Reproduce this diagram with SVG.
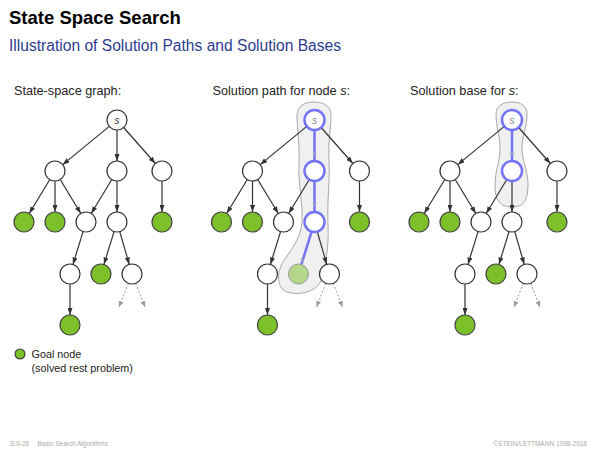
<svg xmlns="http://www.w3.org/2000/svg" width="600" height="450" viewBox="0 0 600 450">
<style>
text{font-family:"Liberation Sans",Arial,sans-serif}
.title{font-size:18.5px;font-weight:bold;fill:#000}
.sub{font-size:15.6px;fill:#2e3d8f}
.lab{font-size:12.7px;fill:#222}
.leg{font-size:10.8px;fill:#222}
.foot{font-size:6.5px;fill:#aaa}
.n{fill:#fff;stroke:#333;stroke-width:1.2}
.goal{fill:#7cc02a;stroke:#444;stroke-width:1.2}
.sol{fill:#fff;stroke:#7474f5;stroke-width:2.5}
.goalsol{fill:#b5d78c;stroke:#999;stroke-width:1}
.e{stroke:#333;stroke-width:1.2;fill:none;marker-end:url(#ah)}
.d{stroke:#999;stroke-width:1;fill:none;stroke-dasharray:2,2;marker-end:url(#ahg)}
.b{stroke:#7474f5;stroke-width:2.5;fill:none}
.bh{fill:#9a9ac8}
.blob{fill:#f0f0f0;stroke:#a8a8a8;stroke-width:1}
.sl{font-size:10px;font-style:italic;fill:#333;text-anchor:middle}
.slg{font-size:10px;font-style:italic;fill:#888;text-anchor:middle}
</style>
<defs>
<marker id="ah" viewBox="0 0 7 5" refX="7" refY="2.5" markerWidth="7" markerHeight="5" markerUnits="userSpaceOnUse" orient="auto"><path d="M0,0 L7,2.5 L0,5 z" fill="#333"/></marker>
<marker id="ahg" viewBox="0 0 6 5" refX="6" refY="2.5" markerWidth="6" markerHeight="5" markerUnits="userSpaceOnUse" orient="auto"><path d="M0,0 L6,2.5 L0,5 z" fill="#999"/></marker>
</defs>

<text class="title" x="9" y="24">State Space Search</text>
<text class="sub" x="9" y="51">Illustration of Solution Paths and Solution Bases</text>

<text class="lab" x="14" y="95">State-space graph:</text>
<text class="lab" x="212.5" y="95">Solution path for node <tspan font-style="italic">s</tspan>:</text>
<text class="lab" x="410" y="95">Solution base for <tspan font-style="italic">s</tspan>:</text>

<!-- highlight regions -->
<path id="blob-path" class="blob" d="M314,102 C324,102 331,106 331,116 C331,130 328,140 329,160 C330,180 327,200 328,225 C329,245 326,262 322,278 C318,292 300,296 287,292 C276,288 277,272 283,262 C292,248 301,238 302,222 C303,200 298,185 299,165 C300,145 297,130 297,116 C297,106 304,102 314,102 Z"/>
<path id="blob-base" class="blob" d="M512,102 C521,102 527,106 527,114 C527,128 522,135 522,148 C522,162 528,170 528,184 C528,200 524,207 512,207 C500,207 495,200 495,186 C495,170 500,162 500,148 C500,135 496,128 496,114 C496,106 503,102 512,102 Z"/>

<!-- Graph 1 -->
<g id="graph1">
<g id="g1-connectors">
<line class="e" x1="109.28" y1="126.35" x2="62.72" y2="164.65"/>
<line class="e" x1="117" y1="130" x2="117" y2="161"/>
<line class="e" x1="123.62" y1="127.5" x2="155.38" y2="163.5"/>
<line class="e" x1="49.81" y1="179.55" x2="29.19" y2="213.45"/>
<line class="e" x1="55" y1="181" x2="55" y2="212"/>
<line class="e" x1="60.19" y1="179.55" x2="80.81" y2="213.45"/>
<line class="e" x1="111.81" y1="179.55" x2="91.19" y2="213.45"/>
<line class="e" x1="117" y1="181" x2="117" y2="212"/>
<line class="e" x1="162" y1="181" x2="162" y2="212"/>
<line class="e" x1="83.06" y1="231.56" x2="72.94" y2="264.44"/>
<line class="e" x1="114.06" y1="231.56" x2="103.94" y2="264.44"/>
<line class="e" x1="119.77" y1="231.61" x2="129.23" y2="264.39"/>
<line class="e" x1="70" y1="284" x2="70" y2="315"/>
<line class="d" x1="128.34" y1="283.3" x2="119" y2="307"/>
<line class="d" x1="135.66" y1="283.3" x2="145" y2="307"/>
</g>
<g id="g1-s"><circle class="n" cx="117" cy="120" r="10"/><text class="sl" x="117" y="123.5">s</text></g>
<g id="g1-a"><circle class="n" cx="55" cy="171" r="10"/></g>
<g id="g1-b"><circle class="n" cx="117" cy="171" r="10"/></g>
<g id="g1-c"><circle class="n" cx="162" cy="171" r="10"/></g>
<g id="g1-d"><circle class="goal" cx="24" cy="222" r="10"/></g>
<g id="g1-e"><circle class="goal" cx="55" cy="222" r="10"/></g>
<g id="g1-f"><circle class="n" cx="86" cy="222" r="10"/></g>
<g id="g1-g"><circle class="n" cx="117" cy="222" r="10"/></g>
<g id="g1-h"><circle class="goal" cx="162" cy="222" r="10"/></g>
<g id="g1-i"><circle class="n" cx="70" cy="274" r="10"/></g>
<g id="g1-j"><circle class="goal" cx="101" cy="274" r="10"/></g>
<g id="g1-k"><circle class="n" cx="132" cy="274" r="10"/></g>
<g id="g1-l"><circle class="goal" cx="70" cy="325" r="10"/></g>
</g>

<!-- Graph 2 -->
<g id="graph2" transform="translate(197.5,0)">
<g id="g2-connectors">
<line class="e" x1="109.28" y1="126.35" x2="62.72" y2="164.65"/>
<line class="e" x1="123.62" y1="127.5" x2="155.38" y2="163.5"/>
<line class="e" x1="49.81" y1="179.55" x2="29.19" y2="213.45"/>
<line class="e" x1="55" y1="181" x2="55" y2="212"/>
<line class="e" x1="60.19" y1="179.55" x2="80.81" y2="213.45"/>
<line class="e" x1="111.81" y1="179.55" x2="91.19" y2="213.45"/>
<line class="e" x1="162" y1="181" x2="162" y2="212"/>
<line class="e" x1="83.06" y1="231.56" x2="72.94" y2="264.44"/>
<line class="e" x1="119.77" y1="231.61" x2="129.23" y2="264.39"/>
<line class="e" x1="70" y1="284" x2="70" y2="315"/>
<line class="d" x1="128.34" y1="283.3" x2="119" y2="307"/>
<line class="d" x1="135.66" y1="283.3" x2="145" y2="307"/>
<line class="b" x1="117" y1="130" x2="117" y2="161"/>
<line class="b" x1="117" y1="181" x2="117" y2="212"/>
<line class="b" x1="114.06" y1="231.56" x2="103.94" y2="264.44"/>
<path class="bh" d="M115,152 L117,156 L119,152 z"/>
<path class="bh" d="M115,203 L117,207 L119,203 z"/>
<path class="bh" d="M103.2,258.5 L104.5,262.9 L107,259.3 z"/>
</g>
<g id="g2-s"><circle class="sol" cx="117" cy="120" r="10"/><text class="slg" x="117" y="123.5">s</text></g>
<g id="g2-a"><circle class="n" cx="55" cy="171" r="10"/></g>
<g id="g2-b"><circle class="sol" cx="117" cy="171" r="10"/></g>
<g id="g2-c"><circle class="n" cx="162" cy="171" r="10"/></g>
<g id="g2-d"><circle class="goal" cx="24" cy="222" r="10"/></g>
<g id="g2-e"><circle class="goal" cx="55" cy="222" r="10"/></g>
<g id="g2-f"><circle class="n" cx="86" cy="222" r="10"/></g>
<g id="g2-g"><circle class="sol" cx="117" cy="222" r="10"/></g>
<g id="g2-h"><circle class="goal" cx="162" cy="222" r="10"/></g>
<g id="g2-i"><circle class="n" cx="70" cy="274" r="10"/></g>
<g id="g2-j"><circle class="goalsol" cx="101" cy="274" r="10"/></g>
<g id="g2-k"><circle class="n" cx="132" cy="274" r="10"/></g>
<g id="g2-l"><circle class="goal" cx="70" cy="325" r="10"/></g>
</g>

<!-- Graph 3 -->
<g id="graph3" transform="translate(395,0)">
<g id="g3-connectors">
<line class="e" x1="109.28" y1="126.35" x2="62.72" y2="164.65"/>
<line class="e" x1="123.62" y1="127.5" x2="155.38" y2="163.5"/>
<line class="e" x1="49.81" y1="179.55" x2="29.19" y2="213.45"/>
<line class="e" x1="55" y1="181" x2="55" y2="212"/>
<line class="e" x1="60.19" y1="179.55" x2="80.81" y2="213.45"/>
<line class="e" x1="111.81" y1="179.55" x2="91.19" y2="213.45"/>
<line class="e" x1="117" y1="181" x2="117" y2="212"/>
<line class="e" x1="162" y1="181" x2="162" y2="212"/>
<line class="e" x1="83.06" y1="231.56" x2="72.94" y2="264.44"/>
<line class="e" x1="114.06" y1="231.56" x2="103.94" y2="264.44"/>
<line class="e" x1="119.77" y1="231.61" x2="129.23" y2="264.39"/>
<line class="e" x1="70" y1="284" x2="70" y2="315"/>
<line class="d" x1="128.34" y1="283.3" x2="119" y2="307"/>
<line class="d" x1="135.66" y1="283.3" x2="145" y2="307"/>
<line class="b" x1="117" y1="130" x2="117" y2="161"/>
<path class="bh" d="M115,152 L117,156 L119,152 z"/>
</g>
<g id="g3-s"><circle class="sol" cx="117" cy="120" r="10"/><text class="slg" x="117" y="123.5">s</text></g>
<g id="g3-a"><circle class="n" cx="55" cy="171" r="10"/></g>
<g id="g3-b"><circle class="sol" cx="117" cy="171" r="10"/></g>
<g id="g3-c"><circle class="n" cx="162" cy="171" r="10"/></g>
<g id="g3-d"><circle class="goal" cx="24" cy="222" r="10"/></g>
<g id="g3-e"><circle class="goal" cx="55" cy="222" r="10"/></g>
<g id="g3-f"><circle class="n" cx="86" cy="222" r="10"/></g>
<g id="g3-g"><circle class="n" cx="117" cy="222" r="10"/></g>
<g id="g3-h"><circle class="goal" cx="162" cy="222" r="10"/></g>
<g id="g3-i"><circle class="n" cx="70" cy="274" r="10"/></g>
<g id="g3-j"><circle class="goal" cx="101" cy="274" r="10"/></g>
<g id="g3-k"><circle class="n" cx="132" cy="274" r="10"/></g>
<g id="g3-l"><circle class="goal" cx="70" cy="325" r="10"/></g>
</g>

<!-- legend -->
<g id="legend">
<circle class="goal" cx="20" cy="354" r="5"/>
<text class="leg" x="31.5" y="358">Goal node</text>
<text class="leg" x="31.5" y="371.5">(solved rest problem)</text>
</g>

<!-- footer -->
<text class="foot" x="10" y="446">S:II-26</text>
<text class="foot" x="37.5" y="446">Basic Search Algorithms</text>
<text class="foot" x="587" y="446" text-anchor="end">©STEIN/LETTMANN 1998-2018</text>
</svg>
